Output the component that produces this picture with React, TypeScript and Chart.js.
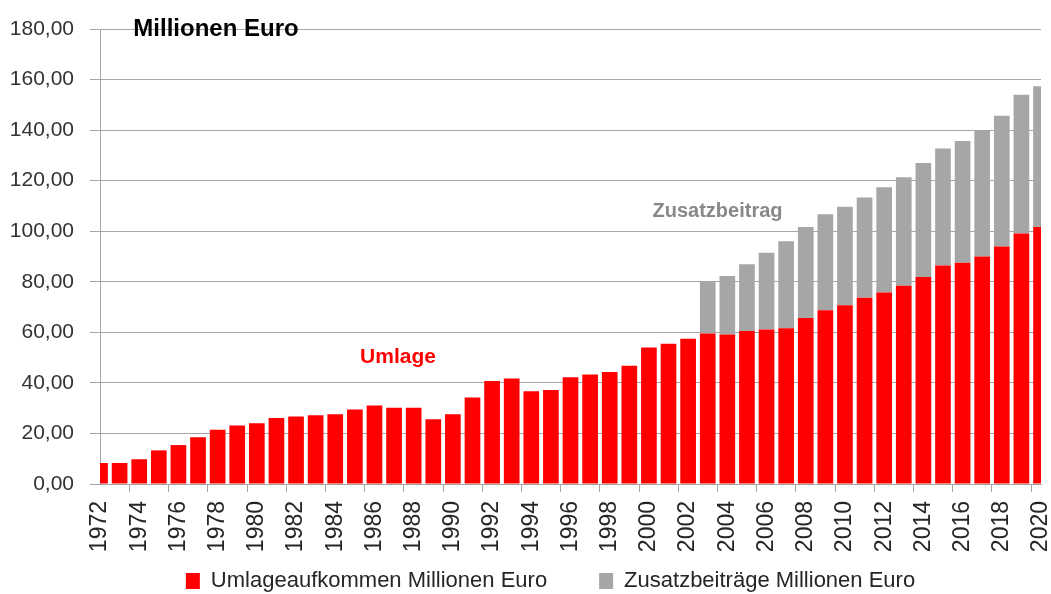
import React, { useEffect, useRef } from 'react';
import { Chart, registerables } from 'chart.js';

Chart.register(...registerables);

const YEARS = [
  '1972', '1973', '1974', '1975', '1976', '1977', '1978', '1979', '1980', '1981',
  '1982', '1983', '1984', '1985', '1986', '1987', '1988', '1989', '1990', '1991',
  '1992', '1993', '1994', '1995', '1996', '1997', '1998', '1999', '2000', '2001',
  '2002', '2003', '2004', '2005', '2006', '2007', '2008', '2009', '2010', '2011',
  '2012', '2013', '2014', '2015', '2016', '2017', '2018', '2019', '2020',
];

const UMLAGE = [
  8.3, 8.3, 9.8, 13.3, 15.4, 18.5, 21.5, 23.1, 24.0, 26.1,
  26.7, 27.2, 27.6, 29.5, 31.1, 30.2, 30.2, 25.6, 27.6, 34.2,
  40.7, 41.7, 36.7, 37.2, 42.2, 43.3, 44.3, 46.8, 54.0, 55.5,
  57.5, 59.5, 59.1, 60.5, 61.1, 61.6, 65.7, 68.7, 70.7, 73.7,
  75.8, 78.4, 81.9, 86.4, 87.5, 90.0, 94.0, 99.1, 101.7,
];

const ZUSATZ = [
  null, null, null, null, null, null, null, null, null, null,
  null, null, null, null, null, null, null, null, null, null,
  null, null, null, null, null, null, null, null, null, null,
  null, 20.7, 23.2, 26.4, 30.4, 34.4, 36.0, 38.0, 39.0, 39.6,
  41.6, 43.0, 45.1, 46.3, 48.2, 49.9, 51.7, 54.9, 55.7,
];

const SERIES_LABELS = ['Umlageaufkommen Millionen Euro', 'Zusatzbeiträge Millionen Euro'];
const SERIES_COLORS = ['#ff0000', '#a6a6a6'];

const Y_TICKS = [0, 20, 40, 60, 80, 100, 120, 140, 160, 180];

// text annotations placed in data coordinates (category index, value)
const NOTE_TEXTS = ['Millionen Euro', 'Umlage', 'Zusatzbeitrag'];
const NOTE_X = [1.7, 15.2, 31.5];
const NOTE_Y = [180, 50, 108];
const NOTE_COLORS = ['#000000', '#ff0000', '#888888'];
const NOTE_ALIGN = ['left', 'center', 'center'];
const NOTE_SIZES = [24, 21, 20];

const FONT = "'Liberation Sans', Arial, sans-serif";
const GRID = '#a6a6a6';

// legend box placement tweak (the legend is centred under the plot area, not the canvas)
const LEGEND_LEFT = 60;
const LEGEND_RAISE = 36;

const notesPlugin = {
  id: 'notes',
  beforeDraw(chart: any) {
    const lg = chart.legend;
    if (lg && !lg._moved) {
      lg.left = LEGEND_LEFT;
      lg.top -= LEGEND_RAISE;
      lg.bottom -= LEGEND_RAISE;
      lg._moved = true;
    }
  },
  afterDraw(chart: any) {
    const { ctx, scales } = chart;
    const x = scales.x;
    const y = scales.y;
    ctx.save();
    ctx.textBaseline = 'middle';
    for (let i = 0; i < NOTE_TEXTS.length; i++) {
      ctx.font = `bold ${NOTE_SIZES[i]}px ${FONT}`;
      ctx.fillStyle = NOTE_COLORS[i];
      ctx.textAlign = NOTE_ALIGN[i] as CanvasTextAlign;
      ctx.fillText(NOTE_TEXTS[i], x.getPixelForValue(NOTE_X[i]), y.getPixelForValue(NOTE_Y[i]));
    }
    ctx.restore();
  },
};

export default function App() {
  const ref = useRef<HTMLCanvasElement>(null);

  useEffect(() => {
    if (!ref.current) return;
    const chart = new Chart(ref.current, {
      type: 'bar',
      data: {
        labels: YEARS,
        datasets: [
          {
            label: SERIES_LABELS[0],
            data: UMLAGE,
            backgroundColor: SERIES_COLORS[0],
            borderWidth: 0,
            barPercentage: 0.8,
            categoryPercentage: 1,
            clip: 0,
          },
          {
            label: SERIES_LABELS[1],
            data: ZUSATZ as any,
            backgroundColor: SERIES_COLORS[1],
            borderWidth: 0,
            barPercentage: 0.8,
            categoryPercentage: 1,
            clip: 0,
          },
        ],
      },
      options: {
        animation: false,
        responsive: false,
        devicePixelRatio: 1,
        layout: { padding: { left: 0, right: 10, top: 29, bottom: -44 } },
        plugins: {
          legend: {
            position: 'bottom',
            align: 'center',
            labels: {
              boxWidth: 14,
              boxHeight: 16,
              padding: 52,
              color: '#262626',
              font: { family: FONT, size: 22 },
            },
          },
          tooltip: { enabled: false },
          title: { display: false },
        },
        scales: {
          x: {
            stacked: true,
            offset: false,
            grid: {
              display: true,
              drawOnChartArea: false,
              drawTicks: true,
              tickLength: 8,
              color: (c: any) => (c.index % 2 === 0 ? GRID : 'rgba(0,0,0,0)'),
            },
            border: { display: true, color: GRID, width: 1 },
            ticks: {
              autoSkip: false,
              minRotation: 90,
              maxRotation: 90,
              padding: 9,
              color: '#262626',
              font: { family: FONT, size: 23 },
              callback: (_v: any, i: number) => (i % 2 === 0 ? YEARS[i] : ''),
            },
            afterFit: (s: any) => {
              s.height = 70;
              s.paddingLeft = 0;
              s.paddingRight = 0;
            },
          },
          y: {
            stacked: true,
            min: 0,
            max: 180,
            afterBuildTicks: (s: any) => {
              s.ticks = Y_TICKS.map((v) => ({ value: v }));
            },
            grid: {
              color: GRID,
              lineWidth: 1,
              drawTicks: true,
              tickLength: 10,
            },
            border: { display: true, color: GRID, width: 1 },
            ticks: {
              padding: 16,
              color: '#333333',
              font: { family: FONT, size: 21 },
              callback: (v: any) => Number(v).toFixed(2).replace('.', ','),
            },
            afterFit: (s: any) => {
              s.width = 100;
            },
          },
        },
      },
      plugins: [notesPlugin],
    });
    return () => chart.destroy();
  }, []);

  return (
    <div style={{ position: 'absolute', left: 0, top: 0, width: 1051, height: 594, background: '#ffffff' }}>
      <canvas ref={ref} width={1051} height={594} style={{ display: 'block' }} />
    </div>
  );
}
